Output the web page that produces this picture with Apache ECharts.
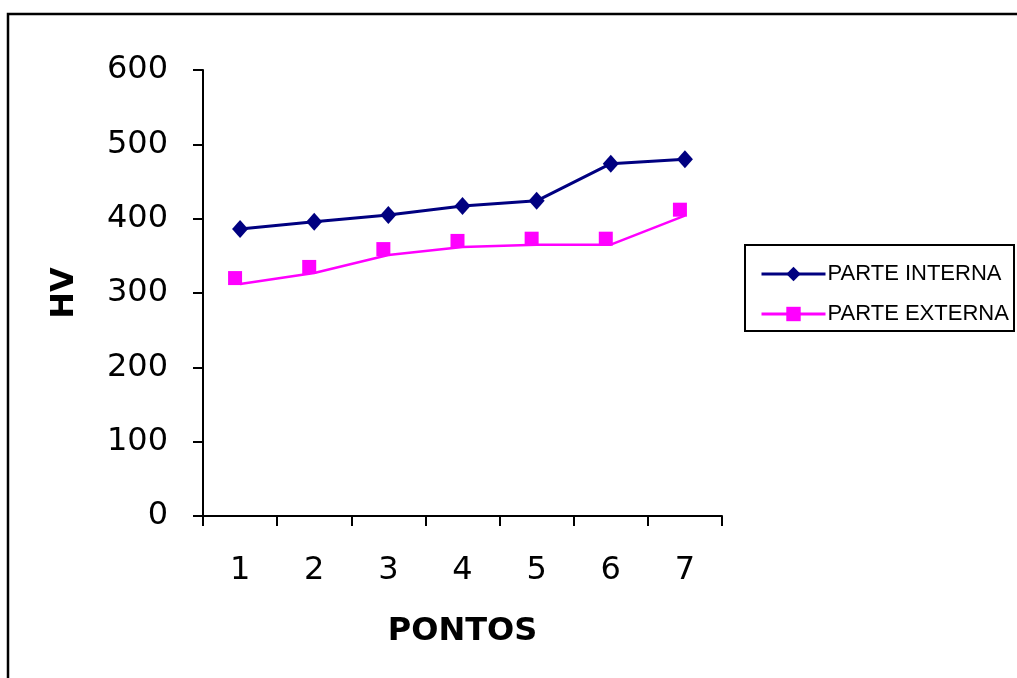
<!DOCTYPE html>
<html>
<head>
<meta charset="utf-8">
<script src="https://cdn.jsdelivr.net/npm/echarts@6/dist/echarts.min.js"></script>
<style>
  html, body { margin: 0; padding: 0; background: #fff; }
  #chart { width: 1017px; height: 678px; }
</style>
</head>
<body>
<div id="chart"></div>
<script>
// Hardness (HV) measured at seven points, inner and outer part
const pontos = ['1', '2', '3', '4', '5', '6', '7'];
const parteInterna = [386, 396, 405, 417, 424, 474, 480];
const parteExterna = [312, 327, 351, 362, 365, 365, 404];
const yTicks = { min: 0, max: 600, interval: 100 };

const chart = echarts.init(document.getElementById('chart'), null, { renderer: 'canvas' });

const axisFont = { fontFamily: 'DejaVu Sans', fontSize: 32, color: '#000' };

chart.setOption({
  animation: false,
  backgroundColor: '#fff',
  grid: { left: 203, right: 295, top: 70, bottom: 162, containLabel: false },
  xAxis: {
    type: 'category',
    data: pontos,
    boundaryGap: true,
    name: 'PONTOS',
    nameLocation: 'middle',
    nameGap: 100,
    nameTextStyle: { fontFamily: 'DejaVu Sans', fontWeight: 'bold', fontSize: 32, color: '#000' },
    axisLine: { lineStyle: { color: '#000', width: 2 } },
    axisTick: { show: true, interval: 0, length: 10, lineStyle: { color: '#000', width: 2 } },
    axisLabel: Object.assign({ margin: 39, interval: 0 }, axisFont),
    splitLine: { show: false }
  },
  yAxis: {
    type: 'value',
    min: yTicks.min,
    max: yTicks.max,
    interval: yTicks.interval,
    name: 'HV',
    nameLocation: 'middle',
    nameRotate: 90,
    nameGap: 122,
    nameTextStyle: { fontFamily: 'DejaVu Sans', fontWeight: 'bold', fontSize: 32, color: '#000' },
    axisLine: { show: true, lineStyle: { color: '#000', width: 2 } },
    axisTick: { show: true, length: 10, lineStyle: { color: '#000', width: 2 } },
    axisLabel: Object.assign({ margin: 35 }, axisFont),
    splitLine: { show: false }
  },
  legend: {
    orient: 'vertical',
    left: 755,
    top: 258,
    itemWidth: 64,
    itemHeight: 18,
    itemGap: 18,
    lineStyle: { width: 3 },
    textStyle: { fontFamily: 'Liberation Sans', fontSize: 22, color: '#000', padding: [0, 0, 0, -3] },
    data: ['PARTE INTERNA', 'PARTE EXTERNA']
  },
  graphic: [
    { type: 'rect', shape: { x: 8, y: 14, width: 1100, height: 700 },
      style: { fill: 'none', stroke: '#000', lineWidth: 2.5 }, silent: true, z: 100 },
    { type: 'rect', shape: { x: 745, y: 245, width: 269, height: 86 },
      style: { fill: 'none', stroke: '#000', lineWidth: 2 }, silent: true, z: 100 }
  ],
  series: [
    {
      name: 'PARTE INTERNA',
      type: 'line',
      data: parteInterna,
      symbol: 'diamond',
      symbolSize: [16, 18],
      lineStyle: { color: '#000080', width: 3 },
      itemStyle: { color: '#000080' }
    },
    {
      name: 'PARTE EXTERNA',
      type: 'line',
      data: parteExterna,
      symbol: 'rect',
      symbolSize: 14,
      symbolOffset: [-5, -6],
      lineStyle: { color: '#FF00FF', width: 2.5 },
      itemStyle: { color: '#FF00FF' }
    }
  ]
});
</script>
</body>
</html>
